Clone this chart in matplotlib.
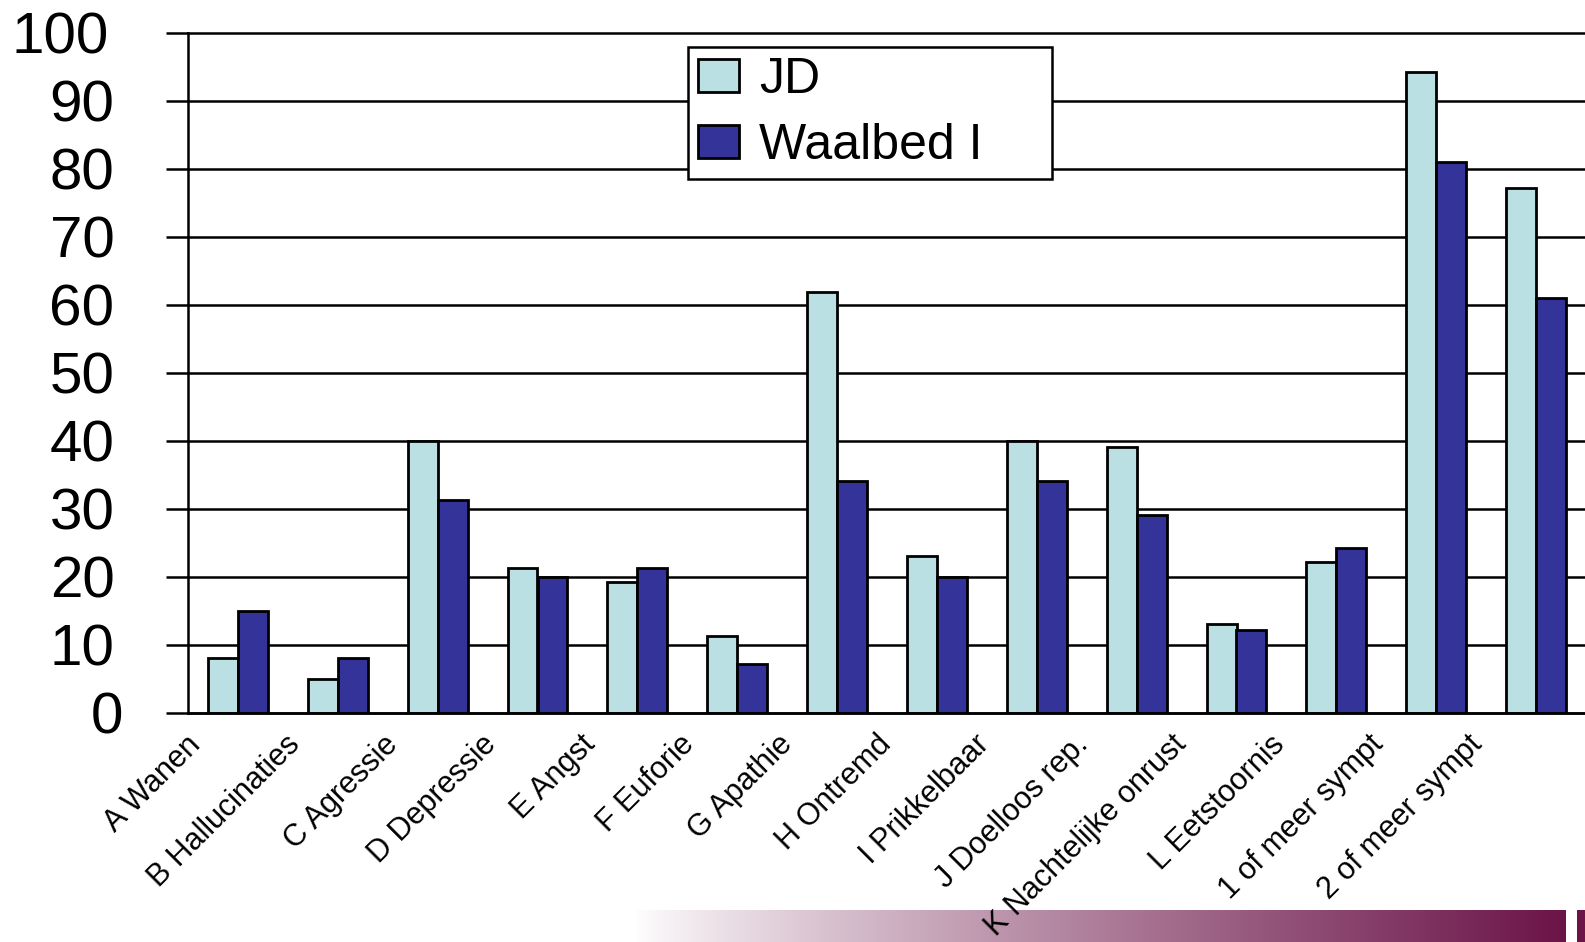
import numpy as np
import matplotlib
matplotlib.use("Agg")
import matplotlib.pyplot as plt
from matplotlib.transforms import ScaledTranslation

plt.rcParams['font.family'] = ['Liberation Sans', 'DejaVu Sans']

categories = ["A Wanen", "B Hallucinaties", "C Agressie", "D Depressie", "E Angst",
              "F Euforie", "G Apathie", "H Ontremd", "I Prikkelbaar", "J Doelloos rep.",
              "K Nachtelijke onrust", "L Eetstoornis", "1 of meer sympt", "2 of meer sympt"]
jd = [8, 5, 40, 21.2, 19.2, 11.3, 61.8, 23, 40, 39.1, 13, 22.1, 94.2, 77.2]
waalbed = [15, 8, 31.2, 20, 21.2, 7.1, 34, 20, 34, 29.1, 12.2, 24.2, 81, 61]
yticks = list(range(0, 101, 10))

W, H = 1585, 942
fig = plt.figure(figsize=(W / 100, H / 100), dpi=100)
ax = fig.add_axes([188 / W, (H - 712.5) / H, 1398 / W, 680 / H])

x = np.arange(len(categories))
bw = 0.3
ax.bar(x - bw / 2, jd, bw, color="#bbe0e3", edgecolor="black", linewidth=2, label="JD")
ax.bar(x + bw / 2, waalbed, bw, color="#333399", edgecolor="black", linewidth=2, label="Waalbed I")

ax.set_xlim(-0.5, len(categories) - 0.5)
ax.set_ylim(0, 100)
ax.set_yticks(yticks)
ax.set_yticklabels([str(v) for v in yticks], fontsize=42)
ax.tick_params(axis="y", length=16, width=1.8, pad=37)
# small nudges so the outer labels sit like the original slide
nudge = {"100": -0.06, "0": 0.09}
for lbl in ax.get_yticklabels():
    dx = nudge.get(lbl.get_text(), 0)
    if dx:
        lbl.set_transform(lbl.get_transform() + ScaledTranslation(dx, 0, fig.dpi_scale_trans))
ax.set_axisbelow(True)
ax.yaxis.grid(True, color="black", linewidth=1.8)
for gl in ax.get_ygridlines():
    gl.set_clip_on(False)

for side in ("top", "right"):
    ax.spines[side].set_visible(False)
ax.spines["left"].set_linewidth(1.8)
ax.spines["bottom"].set_linewidth(1.8)

ax.set_xticks(x)
ax.set_xticklabels(categories, fontsize=22, rotation=45, ha="right", va="top",
                   rotation_mode="anchor")
ax.tick_params(axis="x", length=0, pad=0)
# rotated labels hang a bit left of their group, a little more for later groups
for i, lbl in enumerate(ax.get_xticklabels()):
    dx = (-52 - 1.3 * i) / 100
    lbl.set_transform(lbl.get_transform() + ScaledTranslation(dx, -0.17, fig.dpi_scale_trans))

leg = ax.legend(loc="upper left", bbox_to_anchor=(688 / W, 1 - 177 / H, 364 / W, 130 / H),
                bbox_transform=fig.transFigure, mode="expand", borderaxespad=0,
                fontsize=36, handlelength=0.82, handleheight=0.66, handletextpad=0.4,
                labelspacing=0.4, borderpad=0.2, fancybox=False, framealpha=1,
                edgecolor="black")
leg.get_frame().set_linewidth(1.8)

# purple fade strip along the bottom edge, kept behind the labels
gax = fig.add_axes([635 / W, 0, (1565 - 635) / W, 32 / H])
gax.set_zorder(-1)
t = np.linspace(0, 1, 512)[None, :, None]
white = np.array([1.0, 1.0, 1.0])
dark = np.array([107, 20, 72]) / 255
grad = white * (1 - t ** 0.85) + dark * t ** 0.85
gax.imshow(grad, aspect="auto", extent=(0, 1, 0, 1))
gax.axis("off")
bax = fig.add_axes([1577 / W, 0, 8 / W, 32 / H])
bax.set_facecolor(dark)
bax.set_xticks([])
bax.set_yticks([])
for s in bax.spines.values():
    s.set_visible(False)

fig.savefig("out.png", dpi=100)
